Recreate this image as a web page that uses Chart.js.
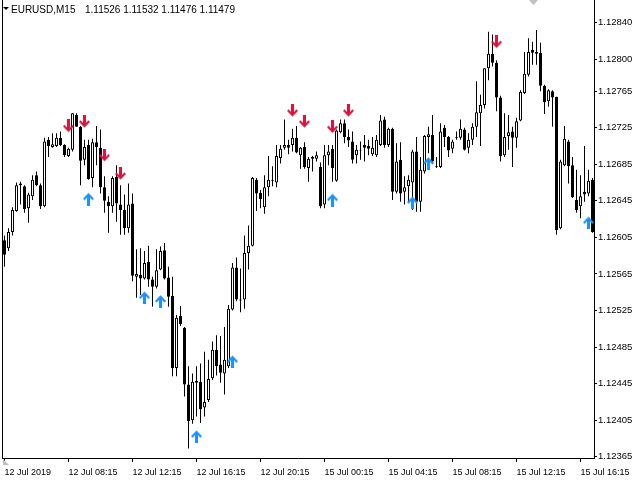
<!DOCTYPE html>
<html>
<head>
<meta charset="utf-8">
<title>EURUSD,M15</title>
<script src="https://cdn.jsdelivr.net/npm/chart.js@4.4.1/dist/chart.umd.min.js"></script>
<style>
    html, body { margin: 0; padding: 0; background: #fff; }
    #wrap { width: 640px; height: 480px; }
</style>
</head>
<body>
<div id="wrap"><canvas id="eurusd-chart" width="640" height="480"></canvas></div>
<script>
const symbolTitle = "EURUSD,M15";
const quoteLine = "1.11526 1.11532 1.11476 1.11479";

// M15 bars, oldest first
const open = [
    1.12602,1.12593,1.12611,1.12634,1.12664,1.12661,1.12637,1.12650,1.12673,1.12662,
    1.12639,1.12712,1.12704,1.12705,1.12714,1.12706,1.12694,1.12701,1.12739,1.12726,
    1.12690,1.12706,1.12670,1.12709,1.12703,1.12660,1.12644,1.12639,1.12671,1.12641,
    1.12635,1.12615,1.12642,1.12562,1.12564,1.12560,1.12578,1.12559,1.12551,1.12570,
    1.12591,1.12561,1.12541,1.12462,1.12519,1.12506,1.12444,1.12405,1.12448,1.12447,
    1.12419,1.12427,1.12451,1.12482,1.12466,1.12456,1.12464,1.12526,1.12572,1.12536,
    1.12537,1.12588,1.12596,1.12668,1.12654,1.12638,1.12660,1.12668,1.12665,1.12692,
    1.12703,1.12706,1.12706,1.12714,1.12695,1.12704,1.12681,1.12691,1.12691,1.12682,
    1.12641,1.12695,1.12702,1.12667,1.12720,1.12730,1.12715,1.12710,1.12695,1.12701,
    1.12706,1.12705,1.12696,1.12695,1.12706,1.12734,1.12706,1.12724,1.12655,1.12690,
    1.12655,1.12661,1.12665,1.12699,1.12644,1.12677,1.12715,1.12717,1.12683,1.12682,
    1.12725,1.12715,1.12702,1.12715,1.12714,1.12723,1.12703,1.12712,1.12726,1.12741,
    1.12750,1.12790,1.12806,1.12796,1.12758,1.12695,1.12716,1.12721,1.12714,1.12733,
    1.12763,1.12783,1.12810,1.12808,1.12807,1.12771,1.12754,1.12765,1.12759,1.12615,
    1.12684,1.12710,1.12684,1.12646,1.12639,1.12655,1.12653,1.12668
];
const high = [
    1.12607,1.12615,1.12638,1.12665,1.12666,1.12662,1.12654,1.12673,1.12677,1.12664,
    1.12714,1.12715,1.12719,1.12719,1.12721,1.12707,1.12703,1.12741,1.12741,1.12727,
    1.12712,1.12712,1.12713,1.12727,1.12723,1.12672,1.12650,1.12672,1.12684,1.12662,
    1.12652,1.12664,1.12653,1.12592,1.12593,1.12590,1.12596,1.12562,1.12592,1.12595,
    1.12599,1.12573,1.12562,1.12520,1.12530,1.12507,1.12464,1.12456,1.12464,1.12467,
    1.12480,1.12471,1.12491,1.12498,1.12497,1.12507,1.12531,1.12577,1.12583,1.12571,
    1.12607,1.12618,1.12671,1.12670,1.12657,1.12673,1.12694,1.12683,1.12706,1.12706,
    1.12734,1.12712,1.12724,1.12727,1.12704,1.12709,1.12693,1.12694,1.12699,1.12687,
    1.12706,1.12706,1.12706,1.12723,1.12734,1.12734,1.12723,1.12721,1.12706,1.12710,
    1.12717,1.12712,1.12715,1.12717,1.12739,1.12737,1.12725,1.12725,1.12708,1.12709,
    1.12672,1.12673,1.12701,1.12715,1.12693,1.12717,1.12726,1.12739,1.12693,1.12730,
    1.12728,1.12716,1.12712,1.12721,1.12734,1.12725,1.12719,1.12730,1.12776,1.12761,
    1.12790,1.12830,1.12827,1.12799,1.12760,1.12741,1.12739,1.12726,1.12736,1.12766,
    1.12808,1.12823,1.12819,1.12832,1.12818,1.12772,1.12767,1.12766,1.12759,1.12690,
    1.12727,1.12712,1.12693,1.12679,1.12673,1.12705,1.12679,1.12670
];
const low = [
    1.12573,1.12590,1.12607,1.12633,1.12641,1.12632,1.12621,1.12646,1.12661,1.12636,
    1.12638,1.12693,1.12703,1.12704,1.12705,1.12693,1.12693,1.12699,1.12726,1.12662,
    1.12684,1.12668,1.12660,1.12684,1.12653,1.12632,1.12610,1.12632,1.12622,1.12608,
    1.12608,1.12610,1.12557,1.12539,1.12542,1.12559,1.12551,1.12529,1.12549,1.12569,
    1.12559,1.12529,1.12453,1.12453,1.12508,1.12431,1.12374,1.12401,1.12409,1.12402,
    1.12409,1.12425,1.12449,1.12454,1.12446,1.12433,1.12462,1.12525,1.12535,1.12523,
    1.12527,1.12570,1.12595,1.12634,1.12637,1.12631,1.12650,1.12661,1.12660,1.12686,
    1.12701,1.12696,1.12699,1.12697,1.12680,1.12680,1.12666,1.12677,1.12688,1.12637,
    1.12637,1.12684,1.12666,1.12666,1.12719,1.12708,1.12704,1.12686,1.12686,1.12690,
    1.12688,1.12695,1.12694,1.12693,1.12705,1.12703,1.12704,1.12646,1.12653,1.12644,
    1.12641,1.12643,1.12635,1.12633,1.12633,1.12675,1.12697,1.12686,1.12681,1.12681,
    1.12704,1.12693,1.12697,1.12712,1.12712,1.12700,1.12697,1.12706,1.12715,1.12705,
    1.12746,1.12777,1.12792,1.12743,1.12688,1.12693,1.12701,1.12682,1.12703,1.12732,
    1.12762,1.12781,1.12794,1.12794,1.12765,1.12740,1.12748,1.12726,1.12608,1.12614,
    1.12683,1.12664,1.12648,1.12632,1.12626,1.12644,1.12650,1.12610
];
const close = [
    1.12586,1.12611,1.12635,1.12662,1.12662,1.12636,1.12652,1.12668,1.12662,1.12639,
    1.12710,1.12705,1.12707,1.12714,1.12706,1.12695,1.12702,1.12741,1.12726,1.12689,
    1.12704,1.12669,1.12709,1.12704,1.12660,1.12645,1.12639,1.12670,1.12642,1.12635,
    1.12615,1.12641,1.12563,1.12565,1.12560,1.12577,1.12559,1.12551,1.12569,1.12590,
    1.12560,1.12540,1.12462,1.12517,1.12510,1.12444,1.12404,1.12447,1.12446,1.12417,
    1.12425,1.12450,1.12482,1.12464,1.12457,1.12471,1.12527,1.12572,1.12537,1.12537,
    1.12588,1.12596,1.12670,1.12653,1.12647,1.12660,1.12668,1.12667,1.12694,1.12702,
    1.12706,1.12703,1.12714,1.12698,1.12703,1.12682,1.12691,1.12693,1.12695,1.12639,
    1.12695,1.12699,1.12681,1.12722,1.12730,1.12715,1.12711,1.12690,1.12701,1.12700,
    1.12703,1.12702,1.12703,1.12712,1.12733,1.12706,1.12724,1.12655,1.12688,1.12653,
    1.12660,1.12668,1.12699,1.12644,1.12679,1.12716,1.12718,1.12688,1.12682,1.12721,
    1.12715,1.12700,1.12710,1.12714,1.12724,1.12701,1.12712,1.12726,1.12742,1.12750,
    1.12790,1.12806,1.12796,1.12758,1.12694,1.12715,1.12720,1.12714,1.12732,1.12764,
    1.12784,1.12808,1.12807,1.12806,1.12771,1.12753,1.12766,1.12758,1.12613,1.12688,
    1.12713,1.12683,1.12649,1.12635,1.12650,1.12652,1.12667,1.12611
];

// signal arrows: bar index + price of the arrow tip
const sellBars = [16, 20, 25, 29, 72, 75, 82, 86, 123];
const sellPrices = [1.12720, 1.12725, 1.12688, 1.12668, 1.12737, 1.12725, 1.12719, 1.12737, 1.12812];
const buyBars = [21, 35, 39, 48, 57, 82, 102, 106, 146];
const buyPrices = [1.12654, 1.12546, 1.12542, 1.12394, 1.12476, 1.12653, 1.12650, 1.12693, 1.12628];

const priceTicks = [1.12840,1.12800,1.12765,1.12725,1.12685,1.12645,1.12605,1.12565,1.12525,1.12485,1.12445,1.12405,1.12365];
const timeLabels = ["12 Jul 2019","12 Jul 08:15","12 Jul 12:15","12 Jul 16:15","12 Jul 20:15","15 Jul 00:15","15 Jul 04:15","15 Jul 08:15","15 Jul 12:15","15 Jul 16:15"];
const timeLabelBars = [0,16,32,48,64,80,96,112,128,144];

const yMax = 1.128648;
const yMin = 1.123636;

window.onload = function(){

    const idx = open.map((o,i) => i);
    const bodyData = idx.map(i => ({x: i, y: [open[i], close[i]]}));
    const wickData = idx.map(i => ({x: i, y: [low[i], high[i]]}));
    const bodyFill = idx.map(i => close[i] >= open[i] ? "#ffffff" : "#000000");

    // arrow glyph, tip sits in the middle of the canvas
    function arrowIcon(color, down){
        const c = document.createElement("canvas");
        c.width = 11;
        c.height = 26;
        const g = c.getContext("2d");
        const pts = [[4,0],[7,0],[7,8],[9.5,5.5],[11,7],[5.5,12.8],[0,7],[1.5,5.5],[4,8]];
        g.fillStyle = color;
        g.beginPath();
        pts.forEach((p,n) => {
            const y = down ? p[1] : 26 - p[1];
            n ? g.lineTo(p[0], y) : g.moveTo(p[0], y);
        });
        g.closePath();
        g.fill();
        return c;
    }

    const mtDecor = {
        id: "mtDecor",
        afterDraw(chart){
            const ctx = chart.ctx;
            const a = chart.chartArea;
            ctx.save();
            // left frame
            ctx.strokeStyle = "#000";
            ctx.lineWidth = 1;
            ctx.beginPath();
            ctx.moveTo(a.left + 0.5, 0);
            ctx.lineTo(a.left + 0.5, a.bottom);
            ctx.stroke();
            // header
            ctx.fillStyle = "#000";
            ctx.beginPath();
            ctx.moveTo(3, 7); ctx.lineTo(9, 7); ctx.lineTo(6, 10);
            ctx.closePath();
            ctx.fill();
            ctx.font = '10px "Liberation Sans"';
            ctx.textBaseline = "alphabetic";
            ctx.fillText(symbolTitle, 11, 13);
            ctx.fillText(quoteLine, 85, 13);
            // shift markers
            ctx.fillStyle = "#c0c0c0";
            ctx.beginPath();
            ctx.moveTo(529, 0); ctx.lineTo(538, 0); ctx.lineTo(533.5, 5);
            ctx.closePath();
            ctx.fill();
            ctx.beginPath();
            ctx.moveTo(3, a.bottom + 1); ctx.lineTo(3, a.bottom + 7); ctx.lineTo(9, a.bottom + 7);
            ctx.closePath();
            ctx.fill();
            ctx.restore();
        }
    };

    let eurusd = new Chart(
        document.getElementById("eurusd-chart"),{
            type: "bar",
            data: {
                datasets: [
                    {
                        type: "scatter",
                        label: "sell",
                        data: sellBars.map((b,i) => ({x: b, y: sellPrices[i]})),
                        pointStyle: arrowIcon("#dc143c", true),
                        pointRadius: 4,
                        order: 0
                    },
                    {
                        type: "scatter",
                        label: "buy",
                        data: buyBars.map((b,i) => ({x: b, y: buyPrices[i]})),
                        pointStyle: arrowIcon("#1e90ff", false),
                        pointRadius: 4,
                        order: 0
                    },
                    {
                        label: "body",
                        data: bodyData,
                        backgroundColor: bodyFill,
                        borderColor: "#000000",
                        borderWidth: 1,
                        borderSkipped: false,
                        barThickness: 3,
                        grouped: false,
                        inflateAmount: 0,
                        order: 1
                    },
                    {
                        label: "wick",
                        data: wickData,
                        backgroundColor: "#000000",
                        borderWidth: 0,
                        barThickness: 1,
                        grouped: false,
                        inflateAmount: 0,
                        order: 2
                    }
                ]
            },
            options: {
                responsive: false,
                animation: false,
                devicePixelRatio: 1,
                layout: { autoPadding: false, padding: { left: 2, top: 0, right: 0, bottom: 0 } },
                plugins: {
                    legend: { display: false },
                    tooltip: { enabled: false },
                    title: { display: false }
                },
                scales: {
                    x: {
                        type: "linear",
                        position: "bottom",
                        min: -0.625,
                        max: 147.375,
                        offset: false,
                        grid: { display: true, offset: false, drawOnChartArea: false, drawTicks: true, tickLength: 4, color: "#000" },
                        border: { display: true, color: "#000", width: 1 },
                        ticks: {
                            align: "start",
                            padding: 5,
                            maxRotation: 0,
                            autoSkip: false,
                            color: "#000",
                            font: { family: "Liberation Sans", size: 9 },
                            callback: function(v){ return timeLabels[timeLabelBars.indexOf(v)]; }
                        },
                        afterBuildTicks: function(s){ s.ticks = timeLabelBars.map(v => ({value: v})); },
                        afterFit: function(s){ s.height = 22; s.paddingLeft = 0; s.paddingRight = 0; }
                    },
                    y: {
                        type: "linear",
                        position: "right",
                        min: yMin,
                        max: yMax,
                        bounds: "data",
                        grid: { display: true, drawOnChartArea: false, drawTicks: true, tickLength: 3, color: "#000" },
                        border: { display: true, color: "#000", width: 1 },
                        ticks: {
                            padding: 1,
                            autoSkip: false,
                            color: "#000",
                            font: { family: "Liberation Sans", size: 9.5 },
                            callback: function(v){ return v.toFixed(5); }
                        },
                        afterBuildTicks: function(s){ s.ticks = priceTicks.map(v => ({value: v})); },
                        afterFit: function(s){ s.width = 46; s.paddingTop = 0; s.paddingBottom = 0; }
                    }
                }
            },
            plugins: [mtDecor]
        }
    );

}
</script>
</body>
</html>
